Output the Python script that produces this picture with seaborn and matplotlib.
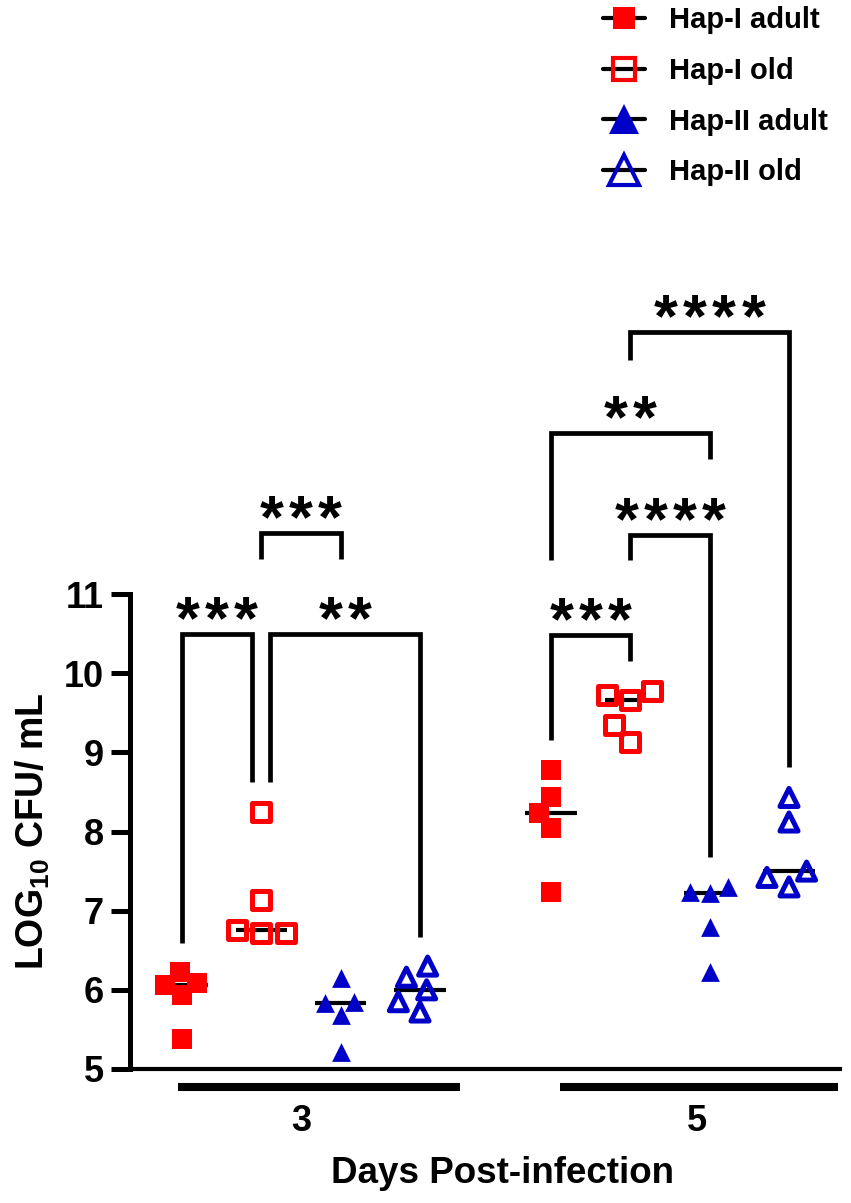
import pandas as pd
import seaborn as sns
import matplotlib.pyplot as plt
from matplotlib.lines import Line2D

sns.set_theme(style="ticks")
plt.rcParams["font.family"] = ["Liberation Sans", "DejaVu Sans"]
plt.rcParams["font.weight"] = "bold"
plt.rcParams["mathtext.fontset"] = "custom"
plt.rcParams["mathtext.rm"] = "Liberation Sans:bold"
plt.rcParams["mathtext.it"] = "Liberation Sans:bold"
plt.rcParams["mathtext.bf"] = "Liberation Sans:bold"
for key in ["text.color", "axes.labelcolor", "xtick.color", "ytick.color", "axes.edgecolor"]:
    plt.rcParams[key] = "black"

# data (log10 CFU/mL)
days = ["3", "5"]
groups = ["Hap-I adult", "Hap-I old", "Hap-II adult", "Hap-II old"]
hap1_adult_d3 = [6.22, 6.09, 6.06, 5.93, 5.38]
hap1_old_d3 = [8.25, 7.13, 6.76, 6.72, 6.72]
hap2_adult_d3 = [6.15, 5.85, 5.83, 5.68, 5.21]
hap2_old_d3 = [6.30, 6.16, 6.00, 5.85, 5.72]
hap1_adult_d5 = [8.78, 8.43, 8.23, 8.04, 7.23]
hap1_old_d5 = [9.78, 9.72, 9.66, 9.34, 9.13]
hap2_adult_d5 = [7.30, 7.24, 7.22, 6.79, 6.22]
hap2_old_d5 = [8.43, 8.12, 7.50, 7.42, 7.30]

# day, group a, group b, stars, bracket top, end under a, end under b
comparisons = [
    ("3", "Hap-I adult", "Hap-I old", "***", 10.49, 6.59, 8.62),
    ("3", "Hap-I old", "Hap-II old", "**", 10.49, 8.62, 6.67),
    ("3", "Hap-I old", "Hap-II adult", "***", 11.77, 11.44, 11.44),
    ("5", "Hap-I adult", "Hap-I old", "***", 10.48, 9.15, 10.15),
    ("5", "Hap-I old", "Hap-II adult", "****", 11.75, 11.43, 7.68),
    ("5", "Hap-I adult", "Hap-II adult", "**", 13.03, 11.43, 12.70),
    ("5", "Hap-I old", "Hap-II old", "****", 14.31, 13.96, 8.81),
]

values = {
    ("3", "Hap-I adult"): hap1_adult_d3, ("3", "Hap-I old"): hap1_old_d3,
    ("3", "Hap-II adult"): hap2_adult_d3, ("3", "Hap-II old"): hap2_old_d3,
    ("5", "Hap-I adult"): hap1_adult_d5, ("5", "Hap-I old"): hap1_old_d5,
    ("5", "Hap-II adult"): hap2_adult_d5, ("5", "Hap-II old"): hap2_old_d5,
}

colors = ["#ff0000", "#ff0000", "#0000c8", "#0000c8"]
markers = ["s", "s", "^", "^"]
filled = [True, False, True, False]
sizes = [13.7, 13, 13.5, 13]
palette = dict(zip(groups, colors))
step = 0.215  # spacing between groups within a day


def xpos(day, group):
    return days.index(day) + (groups.index(group) - 1.5) * step


df = pd.DataFrame([(d, g, xpos(d, g), v) for (d, g), vals in values.items() for v in vals],
                  columns=["day", "group", "x", "value"])

fig = plt.figure(figsize=(8.51, 12.03), dpi=100)
ax = fig.add_axes([130 / 851, 134 / 1203, 710 / 851, 475 / 1203])

# median lines
sns.boxplot(data=df, x="x", y="value", hue="group", hue_order=groups, native_scale=True,
            dodge=False, width=0.65, showbox=False, showcaps=False,
            showfliers=False, whis=0, whiskerprops={"visible": False},
            medianprops={"color": "black", "linewidth": 3, "zorder": 2},
            legend=False, ax=ax)

for g, c, m, f, sz in zip(groups, colors, markers, filled, sizes):
    n0 = len(ax.collections)
    sns.swarmplot(data=df[df.group == g], x="x", y="value", native_scale=True,
                  color=c, marker=m, size=sz, linewidth=0 if f else 3.6,
                  edgecolor=c, legend=False, ax=ax, zorder=3)
    if not f:
        for coll in ax.collections[n0:]:
            coll.set_facecolor("none")
            coll.set_edgecolor(c)

# small nudges so the two day-3 brackets at Hap-I old don't overlap
nudges = {0: (0, -0.026), 1: (0.024, 0)}
for i, (d, ga, gb, stars, top, ya, yb) in enumerate(comparisons):
    dxa, dxb = nudges.get(i, (0, 0))
    xa, xb = xpos(d, ga) + dxa, xpos(d, gb) + dxb
    ax.plot([xa, xa, xb, xb], [ya, top, top, yb], color="black", lw=3.4,
            clip_on=False, solid_joinstyle="miter", solid_capstyle="butt")
    xc = (xa + xb) / 2
    n = len(stars)
    for k, s in enumerate(stars):
        ax.annotate(s, xy=(xc, top), xytext=((k - (n - 1) / 2) * 20.9, -3),
                    textcoords="offset points", ha="center", va="baseline",
                    fontsize=44, fontweight="bold", annotation_clip=False)

# thick group bars under the x axis
bar_spans = [(-0.333, 0.431), (-0.298, 0.455)]
for i, (b0, b1) in enumerate(bar_spans):
    ax.plot([i + b0, i + b1], [-0.038, -0.038], color="black", lw=5.8,
            transform=ax.get_xaxis_transform(), clip_on=False, solid_capstyle="butt")

ax.set_xlim(-0.4634, 1.4607)
ax.set_ylim(5, 11)
ax.set_yticks(range(5, 12))
ax.set_xticks([0, 1.073])
ax.set_xticklabels(days)
sns.despine(ax=ax)
ax.spines["left"].set_linewidth(3.6)
ax.spines["bottom"].set_linewidth(3)
ax.tick_params(axis="y", length=13.7, width=3.6, labelsize=26, pad=5)
ax.tick_params(axis="x", length=0, labelsize=26, pad=25)

ax.set_xlabel("Days Post-infection", fontsize=26.5, fontweight="bold")
ax.xaxis.set_label_coords(0.524, -0.183)
ax.set_ylabel(r"LOG$_{10}$ CFU/ mL", fontsize=27, fontweight="bold")
ax.yaxis.set_label_coords(-0.11, 0.5)

handles = []
for c, m, f in zip(colors, markers, filled):
    handles.append(Line2D([], [], color="black", lw=3, marker=m,
                          markersize=16 if m == "s" else 21,
                          markerfacecolor=c if f else "none", markeredgecolor=c,
                          markeredgewidth=0 if f else 3))
fig.legend(handles, groups, loc="upper left", bbox_to_anchor=(603 / 851, 0.995),
           frameon=False, fontsize=21, handlelength=1.45, handletextpad=0.8,
           labelspacing=0.78, borderaxespad=0, borderpad=0)

fig.savefig("out.png", dpi=100)
